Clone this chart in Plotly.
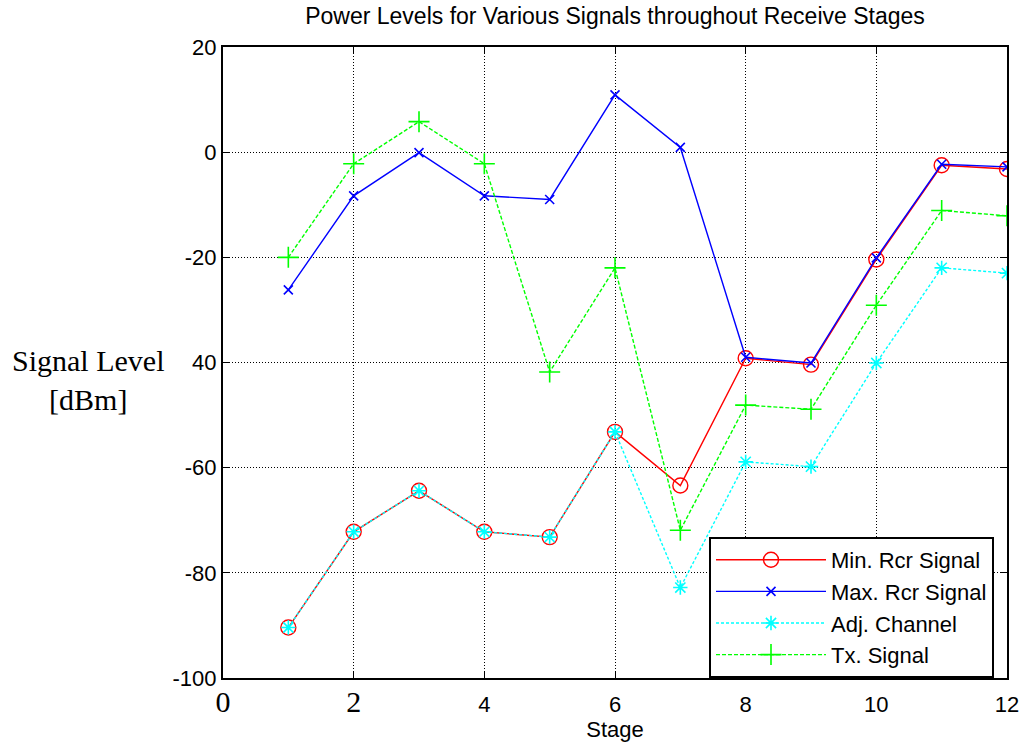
import plotly.graph_objects as go

stages = [1, 2, 3, 4, 5, 6, 7, 8, 9, 10, 11, 12]
min_rcr = [-90.4, -72.2, -64.4, -72.2, -73.2, -53.2, -63.4, -39.2, -40.4, -20.4, -2.5, -3.2]
max_rcr = [-26.2, -8.3, -0.1, -8.3, -9.0, 10.9, 0.9, -39.0, -40.1, -20.1, -2.3, -2.8]
adj_chan = [-90.4, -72.2, -64.4, -72.2, -73.2, -53.2, -82.8, -58.9, -59.8, -40.1, -22.0, -23.0]
tx_sig = [-20.0, -2.2, 5.8, -2.2, -41.8, -22.0, -71.9, -48.1, -48.9, -29.1, -11.1, -12.1]

x_tickvals = [0, 2, 4, 6, 8, 10, 12]
x_ticktext = ['<span style="font-family:\'Liberation Serif\';font-size:30px">0</span>',
              '<span style="font-family:\'Liberation Serif\';font-size:30px">2</span>',
              '4', '6', '8', '10', '12']
y_tickvals = [20, 0, -20, -40, -60, -80, -100]
y_ticktext = ['20', '0', '-20', '40', '-60', '-80', '-100']

fig = go.Figure()
fig.add_trace(go.Scatter(x=stages, y=min_rcr, name="Min. Rcr Signal", mode="lines+markers",
                         line=dict(color="#ff0000", width=1.4),
                         marker=dict(symbol="circle-open", size=15, color="#ff0000", line=dict(width=1.4))))
fig.add_trace(go.Scatter(x=stages, y=max_rcr, name="Max. Rcr Signal", mode="lines+markers",
                         line=dict(color="#0000ff", width=1.4),
                         marker=dict(symbol="x-thin-open", size=9, color="#0000ff", line=dict(width=1.6, color="#0000ff"))))
fig.add_trace(go.Scatter(x=stages, y=adj_chan, name="Adj. Channel", mode="lines+markers",
                         line=dict(color="#00ffff", width=1.4, dash="3px,2px"),
                         marker=dict(symbol="asterisk-open", size=12, color="#00ffff", line=dict(width=1.6, color="#00ffff"))))
fig.add_trace(go.Scatter(x=stages, y=tx_sig, name="Tx. Signal", mode="lines+markers",
                         line=dict(color="#00ff00", width=1.4, dash="4px,2px"),
                         marker=dict(symbol="cross-thin-open", size=15, color="#00ff00", line=dict(width=1.6, color="#00ff00"))))

fig.update_layout(
    width=1023, height=744,
    margin=dict(l=223, r=16, t=47, b=66, autoexpand=False),
    paper_bgcolor="white", plot_bgcolor="white",
    font=dict(family="Arial, Liberation Sans, sans-serif", size=22, color="black"),
    title=dict(text="Power Levels for Various Signals throughout Receive Stages",
               x=(223 + 1007) / 2 / 1023, xanchor="center", y=1 - 16 / 744, yanchor="middle",
               font=dict(size=23)),
    showlegend=True,
    legend=dict(x=(709 - 223) / 784, xanchor="left", y=0.0, yanchor="bottom",
                bgcolor="white", bordercolor="black", borderwidth=2,
                font=dict(size=22), itemwidth=110, tracegroupgap=0),
)
fig.update_xaxes(range=[0, 12], tickvals=x_tickvals, ticktext=x_ticktext, automargin=False,
                 showline=True, linecolor="black", linewidth=2, mirror="allticks",
                 ticks="inside", ticklen=7, tickcolor="black", ticklabelstandoff=6,
                 showgrid=True, gridcolor="black", griddash="1px,2px", gridwidth=1, zeroline=False,
                 title=dict(text="Stage", standoff=2, font=dict(size=22)))
fig.update_yaxes(range=[-100, 20], tickvals=y_tickvals, ticktext=y_ticktext, automargin=False,
                 showline=True, linecolor="black", linewidth=2, mirror="allticks",
                 ticks="inside", ticklen=7, tickcolor="black",
                 showgrid=True, gridcolor="black", griddash="1px,2px", gridwidth=1, zeroline=False)

fig.add_annotation(text="Signal Level<br>[dBm]", xref="paper", yref="paper",
                   x=(88 - 223) / 784, y=(678 - 380) / 631, xanchor="center", yanchor="middle",
                   showarrow=False, align="center",
                   font=dict(family="Liberation Serif, Times New Roman, serif", size=30, color="black"))

fig.write_html("out.html")
